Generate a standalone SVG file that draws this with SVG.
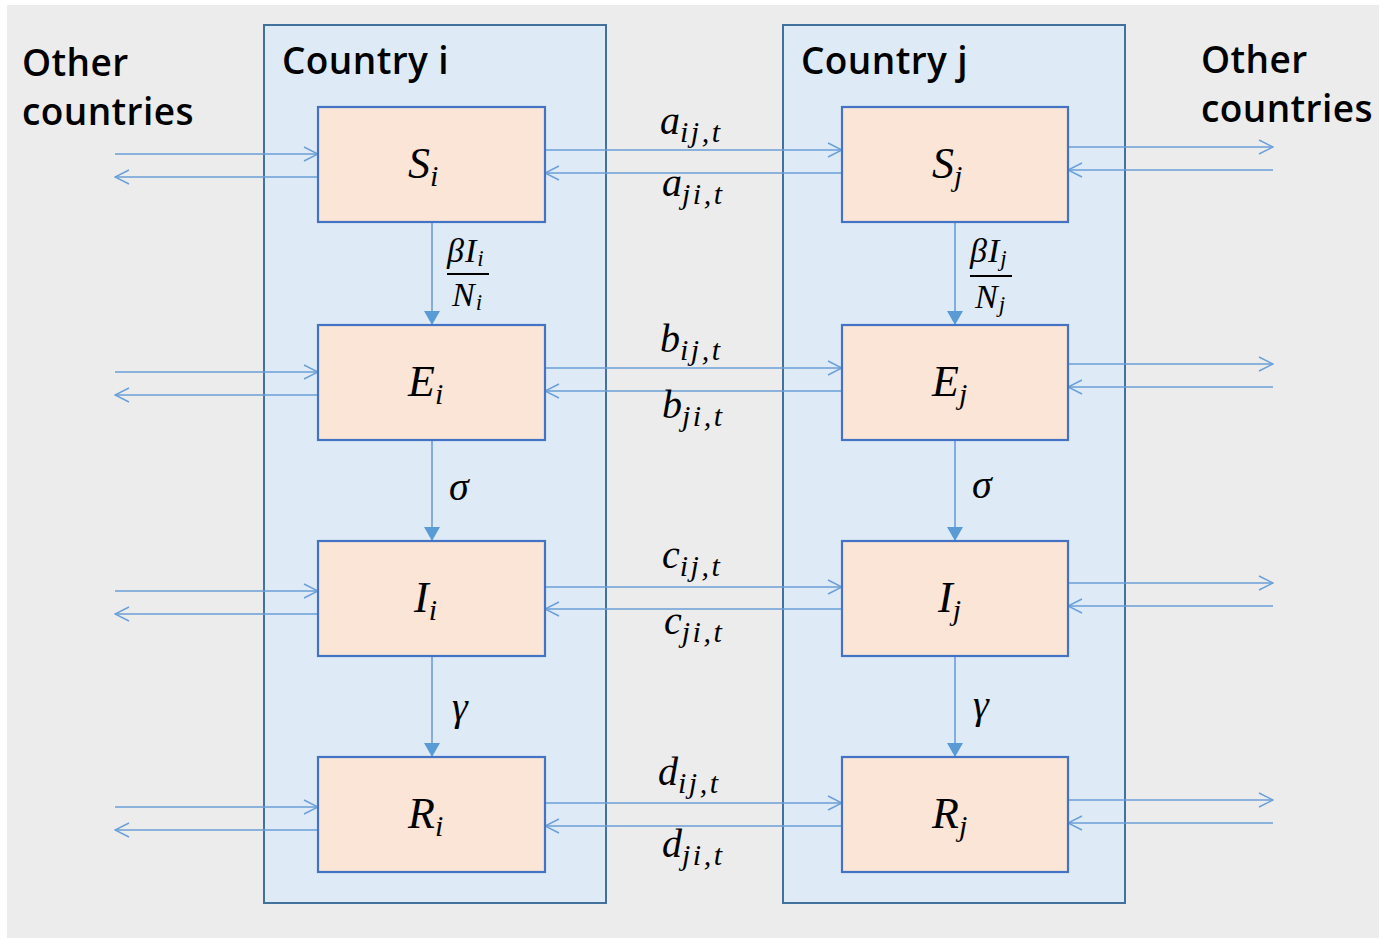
<svg xmlns="http://www.w3.org/2000/svg" width="1387" height="939" viewBox="0 0 1387 939">
<defs>
<marker id="chev" viewBox="0 0 16 16" refX="15" refY="8" markerWidth="16" markerHeight="16" markerUnits="userSpaceOnUse" orient="auto">
<path d="M1,1 L15,8 L1,15" fill="none" stroke="#6a9fd8" stroke-width="1.5"/>
</marker>
<marker id="tri" viewBox="0 0 16 14" refX="8" refY="14" markerWidth="16" markerHeight="14" markerUnits="userSpaceOnUse" orient="0">
<path d="M0,0 L16,0 L8,14 Z" fill="#5b9bd5"/>
</marker>
</defs>
<style>
.country{fill:#deebf7;stroke:#41719c;stroke-width:2}
.node{fill:#fbe5d6;stroke:#4472c4;stroke-width:2.2}
.h{stroke:#6a9fd8;stroke-width:1.5;fill:none;marker-end:url(#chev)}
.v{stroke:#6a9fd8;stroke-width:1.6;fill:none;marker-end:url(#tri)}
.sans{font-family:"Open Sans","Noto Sans","Liberation Sans",sans-serif;font-size:37px;fill:#000;font-weight:600;letter-spacing:0.4px}
.math{font-family:"Liberation Serif","DejaVu Serif",serif;font-style:italic;fill:#000}
.lab{font-size:40px}
.big{font-size:44px}
.sm{font-size:30px;letter-spacing:2.5px}
.fr{font-size:34px;letter-spacing:1px}
.frs{font-size:23px}
</style>
<rect x="0" y="0" width="1387" height="939" fill="#ffffff"/>
<rect x="7" y="5" width="1372" height="933" fill="#ececec"/>
<g id="country-i">
<rect class="country" x="264" y="25" width="342" height="878"/>
<text class="sans" x="282" y="74">Country i</text>
</g>
<g id="country-j">
<rect class="country" x="783" y="25" width="342" height="878"/>
<text class="sans" x="801" y="74">Country j</text>
</g>
<g id="other-left">
<text class="sans" x="22" y="76">Other</text>
<text class="sans" x="22" y="125">countries</text>
</g>
<g id="other-right">
<text class="sans" x="1201" y="73">Other</text>
<text class="sans" x="1201" y="122">countries</text>
</g>
<g id="connectors">
<line class="v" x1="432" y1="222" x2="432" y2="325"/>
<line class="v" x1="432" y1="440" x2="432" y2="541"/>
<line class="v" x1="432" y1="655" x2="432" y2="757"/>
<line class="v" x1="955" y1="222" x2="955" y2="325"/>
<line class="v" x1="955" y1="440" x2="955" y2="541"/>
<line class="v" x1="955" y1="655" x2="955" y2="757"/>
<line class="h" x1="115" y1="154" x2="318" y2="154"/>
<line class="h" x1="318" y1="177" x2="115" y2="177"/>
<line class="h" x1="545" y1="150" x2="842" y2="150"/>
<line class="h" x1="842" y1="173" x2="545" y2="173"/>
<line class="h" x1="1068" y1="147" x2="1273" y2="147"/>
<line class="h" x1="1273" y1="170" x2="1068" y2="170"/>
<line class="h" x1="115" y1="372" x2="318" y2="372"/>
<line class="h" x1="318" y1="395" x2="115" y2="395"/>
<line class="h" x1="545" y1="368" x2="842" y2="368"/>
<line class="h" x1="842" y1="391" x2="545" y2="391"/>
<line class="h" x1="1068" y1="364" x2="1273" y2="364"/>
<line class="h" x1="1273" y1="387" x2="1068" y2="387"/>
<line class="h" x1="115" y1="591" x2="318" y2="591"/>
<line class="h" x1="318" y1="614" x2="115" y2="614"/>
<line class="h" x1="545" y1="587" x2="842" y2="587"/>
<line class="h" x1="842" y1="609" x2="545" y2="609"/>
<line class="h" x1="1068" y1="583" x2="1273" y2="583"/>
<line class="h" x1="1273" y1="606" x2="1068" y2="606"/>
<line class="h" x1="115" y1="807" x2="318" y2="807"/>
<line class="h" x1="318" y1="830" x2="115" y2="830"/>
<line class="h" x1="545" y1="803" x2="842" y2="803"/>
<line class="h" x1="842" y1="826" x2="545" y2="826"/>
<line class="h" x1="1068" y1="800" x2="1273" y2="800"/>
<line class="h" x1="1273" y1="823" x2="1068" y2="823"/>
</g>
<g id="node-Si"><rect class="node" x="318" y="107" width="227" height="115"/><text class="math big" x="408" y="178">S<tspan class="sm" dy="8">i</tspan></text></g>
<g id="node-Ei"><rect class="node" x="318" y="325" width="227" height="115"/><text class="math big" x="408" y="396">E<tspan class="sm" dy="8">i</tspan></text></g>
<g id="node-Ii"><rect class="node" x="318" y="541" width="227" height="115"/><text class="math big" x="414" y="612">I<tspan class="sm" dy="8">i</tspan></text></g>
<g id="node-Ri"><rect class="node" x="318" y="757" width="227" height="115"/><text class="math big" x="408" y="828">R<tspan class="sm" dy="8">i</tspan></text></g>
<g id="node-Sj"><rect class="node" x="842" y="107" width="226" height="115"/><text class="math big" x="932" y="178">S<tspan class="sm" dy="8">j</tspan></text></g>
<g id="node-Ej"><rect class="node" x="842" y="325" width="226" height="115"/><text class="math big" x="932" y="396">E<tspan class="sm" dy="8">j</tspan></text></g>
<g id="node-Ij"><rect class="node" x="842" y="541" width="226" height="115"/><text class="math big" x="938" y="612">I<tspan class="sm" dy="8">j</tspan></text></g>
<g id="node-Rj"><rect class="node" x="842" y="757" width="226" height="115"/><text class="math big" x="932" y="828">R<tspan class="sm" dy="8">j</tspan></text></g>
<g id="rate-labels">
<text class="math fr" x="447" y="262">βI<tspan class="frs" dy="4">i</tspan></text>
<line x1="447" y1="274" x2="489" y2="274" stroke="#000" stroke-width="2"/>
<text class="math fr" x="452" y="306">N<tspan class="frs" dy="4">i</tspan></text>
<text class="math fr" x="970" y="262">βI<tspan class="frs" dy="4">j</tspan></text>
<line x1="970" y1="276" x2="1012" y2="276" stroke="#000" stroke-width="2"/>
<text class="math fr" x="975" y="308">N<tspan class="frs" dy="4">j</tspan></text>
<text class="math lab" x="449" y="500">σ</text>
<text class="math lab" x="972" y="498">σ</text>
<text class="math lab" x="452" y="720">γ</text>
<text class="math lab" x="973" y="718">γ</text>
</g>
<g id="flow-labels">
<text class="math lab" x="660" y="134">a<tspan class="sm" dy="8">ij,t</tspan></text>
<text class="math lab" x="662" y="196">a<tspan class="sm" dy="8">ji,t</tspan></text>
<text class="math lab" x="660" y="352">b<tspan class="sm" dy="8">ij,t</tspan></text>
<text class="math lab" x="662" y="418">b<tspan class="sm" dy="8">ji,t</tspan></text>
<text class="math lab" x="662" y="568">c<tspan class="sm" dy="8">ij,t</tspan></text>
<text class="math lab" x="664" y="634">c<tspan class="sm" dy="8">ji,t</tspan></text>
<text class="math lab" x="658" y="785">d<tspan class="sm" dy="8">ij,t</tspan></text>
<text class="math lab" x="662" y="857">d<tspan class="sm" dy="8">ji,t</tspan></text>
</g>
</svg>
